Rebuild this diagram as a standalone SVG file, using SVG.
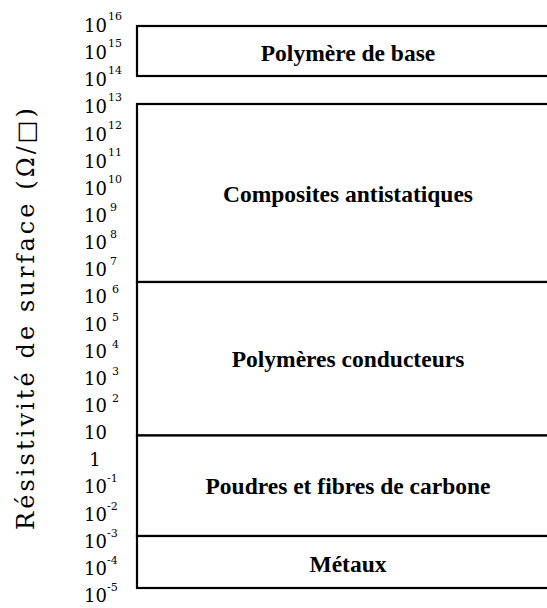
<svg xmlns="http://www.w3.org/2000/svg" width="547" height="608" viewBox="0 0 547 608">
<style>
.band{fill:#fff;stroke:#000;stroke-width:2.2}
.lbl{font-family:"Liberation Serif","Times New Roman",serif;font-weight:bold;font-size:23.5px;text-anchor:middle;fill:#000}
</style>
<rect width="547" height="608" fill="#fff"/>
<g id="axis-title" font-family="'DejaVu Serif', 'Liberation Serif', serif" font-size="24" font-weight="normal" fill="#000">
<text transform="translate(34,319) rotate(-90)" text-anchor="middle" textLength="422" lengthAdjust="spacing">Résistivité de surface (Ω/□)</text>
</g>
<g id="ticks" font-family="'DejaVu Serif', 'Liberation Serif', serif" font-size="18" font-weight="normal" fill="#000">
<text x="84" y="32">10<tspan font-size="11" x="108" y="20">16</tspan></text>
<text x="84" y="59.1">10<tspan font-size="11" x="108" y="47.1">15</tspan></text>
<text x="84" y="86.3">10<tspan font-size="11" x="108" y="74.3">14</tspan></text>
<text x="84" y="113.4">10<tspan font-size="11" x="108" y="101.4">13</tspan></text>
<text x="84" y="140.6">10<tspan font-size="11" x="108" y="128.6">12</tspan></text>
<text x="84" y="167.7">10<tspan font-size="11" x="108" y="155.7">11</tspan></text>
<text x="84" y="194.8">10<tspan font-size="11" x="108" y="182.8">10</tspan></text>
<text x="84" y="222">10<tspan font-size="11" x="110" y="211">9</tspan></text>
<text x="84" y="249.1">10<tspan font-size="11" x="110" y="238.1">8</tspan></text>
<text x="84" y="276.3">10<tspan font-size="11" x="110" y="265.3">7</tspan></text>
<text x="84" y="303.4">10<tspan font-size="11" x="112" y="293.4">6</tspan></text>
<text x="84" y="330.5">10<tspan font-size="11" x="112" y="320.5">5</tspan></text>
<text x="84" y="357.7">10<tspan font-size="11" x="112" y="347.7">4</tspan></text>
<text x="84" y="384.8">10<tspan font-size="11" x="112" y="374.8">3</tspan></text>
<text x="84" y="412">10<tspan font-size="11" x="112" y="402">2</tspan></text>
<text x="84" y="439.1">10</text>
<text x="95" y="466.2" text-anchor="middle">1</text>
<text x="84" y="493.4">10<tspan font-size="11" x="107" y="482.4">-1</tspan></text>
<text x="84" y="520.5">10<tspan font-size="11" x="107" y="509.5">-2</tspan></text>
<text x="84" y="547.7">10<tspan font-size="11" x="107" y="536.7">-3</tspan></text>
<text x="84" y="574.8">10<tspan font-size="11" x="107" y="563.8">-4</tspan></text>
<text x="84" y="602">10<tspan font-size="11" x="107" y="591">-5</tspan></text>
</g>
<g id="polymere-base">
<rect class="band" x="137" y="26" width="430" height="50"/>
<text class="lbl" x="348" y="61">Polymère de base</text>
</g>
<g id="composites-antistatiques">
<rect class="band" x="137" y="104" width="430" height="178"/>
<text class="lbl" x="348" y="202">Composites antistatiques</text>
</g>
<g id="polymeres-conducteurs">
<rect class="band" x="137" y="282" width="430" height="153.5"/>
<text class="lbl" x="348" y="367">Polymères conducteurs</text>
</g>
<g id="poudres-fibres-carbone">
<rect class="band" x="137" y="435.5" width="430" height="100.5"/>
<text class="lbl" x="348" y="494">Poudres et fibres de carbone</text>
</g>
<g id="metaux">
<rect class="band" x="137" y="536" width="430" height="52"/>
<text class="lbl" x="348" y="572">Métaux</text>
</g>
<g id="connectors"></g>
</svg>
